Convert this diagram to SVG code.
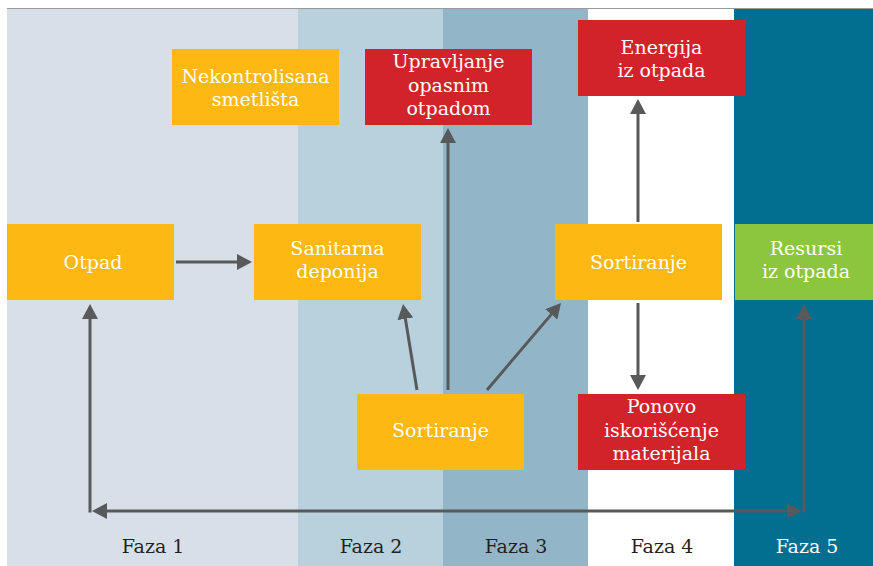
<svg xmlns="http://www.w3.org/2000/svg" width="873" height="566" viewBox="0 0 873 566">
<defs>
<style>
.nt{font-family:"DejaVu Serif","Liberation Serif",serif;font-size:19px;fill:#ffffff;text-anchor:middle}
.ph{font-family:"DejaVu Serif","Liberation Serif",serif;font-size:19px;fill:#231f20;text-anchor:middle}
.or{fill:#fdb813}
.rd{fill:#d2232a}
.gr{fill:#8cc63f}
.cn{stroke:#58595b;stroke-width:3;fill:none}
</style>
<marker id="ah" markerUnits="userSpaceOnUse" markerWidth="16" markerHeight="16" refX="5" refY="8" orient="auto-start-reverse">
<path d="M0,0 L15,8 L0,16 z" fill="#58595b"/>
</marker>
</defs>
<rect width="873" height="566" fill="#ffffff"/>
<g id="phases">
<rect x="7" y="8" width="291" height="558" fill="#d7e0e8"/>
<rect x="298" y="8" width="145" height="558" fill="#b8d1dd"/>
<rect x="443" y="8" width="145" height="558" fill="#93b5c8"/>
<rect x="588" y="8" width="146" height="558" fill="#ffffff"/>
<rect x="734" y="8" width="139" height="558" fill="#026f91"/>
<line x1="7" y1="8.5" x2="873" y2="8.5" stroke="#9a9a9a" stroke-width="1"/>
<text class="ph" x="153" y="553">Faza 1</text>
<text class="ph" x="371" y="553">Faza 2</text>
<text class="ph" x="516" y="553">Faza 3</text>
<text class="ph" x="662" y="553">Faza 4</text>
<text class="ph" x="807" y="553" style="fill:#ffffff">Faza 5</text>
</g>
<g id="connectors">
<path class="cn" d="M176,262 H242" marker-end="url(#ah)"/>
<path class="cn" d="M417,390 L404.6,313.9" marker-end="url(#ah)"/>
<path class="cn" d="M448,390 V138" marker-end="url(#ah)"/>
<path class="cn" d="M487,390 L554.5,310.6" marker-end="url(#ah)"/>
<path class="cn" d="M638,222 V109" marker-end="url(#ah)"/>
<path class="cn" d="M638,303 V380" marker-end="url(#ah)"/>
<path class="cn" d="M90,512.5 V314" marker-end="url(#ah)"/>
<path class="cn" d="M804,512.5 V314" marker-end="url(#ah)"/>
<path class="cn" d="M102,511 H792" marker-start="url(#ah)" marker-end="url(#ah)"/>
</g>
<g id="n-nekontrolisana">
<rect class="or" x="172" y="49" width="167" height="76"/>
<text class="nt" x="255.5" y="83">Nekontrolisana</text>
<text class="nt" x="255.5" y="106">smetlišta</text>
</g>
<g id="n-upravljanje">
<rect class="rd" x="365" y="49" width="167" height="76"/>
<text class="nt" x="448.5" y="68">Upravljanje</text>
<text class="nt" x="448.5" y="92">opasnim</text>
<text class="nt" x="448.5" y="115">otpadom</text>
</g>
<g id="n-energija">
<rect class="rd" x="578" y="20" width="167" height="76"/>
<text class="nt" x="661.5" y="54">Energija</text>
<text class="nt" x="661.5" y="77">iz otpada</text>
</g>
<g id="n-otpad">
<rect class="or" x="7" y="224" width="167" height="76"/>
<text class="nt" x="93" y="269">Otpad</text>
</g>
<g id="n-sanitarna">
<rect class="or" x="254" y="224" width="167" height="76"/>
<text class="nt" x="337.5" y="255">Sanitarna</text>
<text class="nt" x="337.5" y="278">deponija</text>
</g>
<g id="n-sortiranje2">
<rect class="or" x="555" y="224" width="167" height="76"/>
<text class="nt" x="638.5" y="269">Sortiranje</text>
</g>
<g id="n-resursi">
<rect class="gr" x="735" y="224" width="138" height="76"/>
<text class="nt" x="806" y="255">Resursi</text>
<text class="nt" x="806" y="278">iz otpada</text>
</g>
<g id="n-sortiranje1">
<rect class="or" x="357" y="394" width="167" height="76"/>
<text class="nt" x="440.5" y="437">Sortiranje</text>
</g>
<g id="n-ponovo">
<rect class="rd" x="578" y="394" width="167" height="76"/>
<text class="nt" x="661.5" y="413">Ponovo</text>
<text class="nt" x="661.5" y="437">iskorišćenje</text>
<text class="nt" x="661.5" y="460">materijala</text>
</g>
</svg>
